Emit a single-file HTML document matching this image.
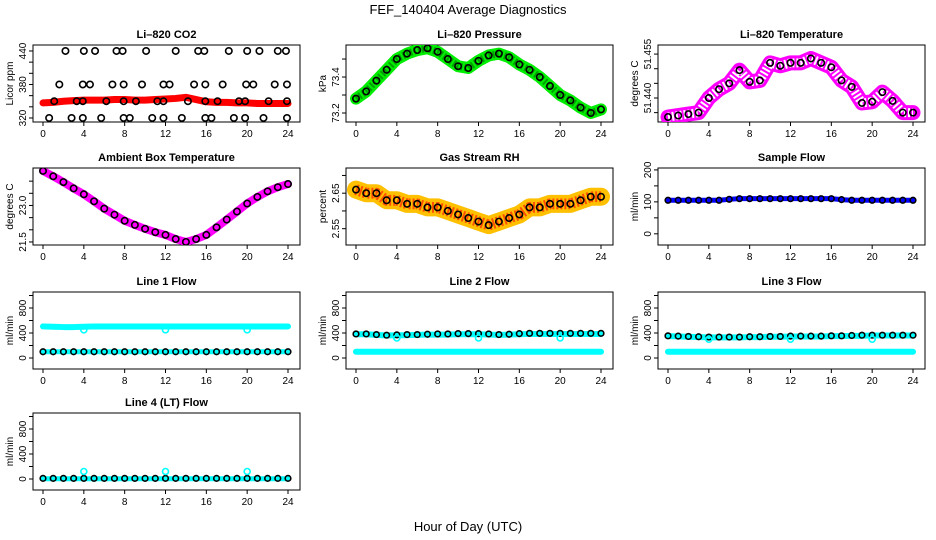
<!DOCTYPE html>
<html><head><meta charset="utf-8"><style>
html,body{margin:0;padding:0;background:#fff;}
svg{display:block;font-family:"Liberation Sans",sans-serif;}
</style></head><body>
<svg id="chart" width="936" height="540" viewBox="0 0 936 540">
<text x="468" y="14" text-anchor="middle" font-size="13">FEF_140404  Average Diagnostics</text>
<text x="468" y="531" text-anchor="middle" font-size="13">Hour of Day (UTC)</text>
</svg>
<script>
// ---- data ----
const hours = [0,1,2,3,4,5,6,7,8,9,10,11,12,13,14,15,16,17,18,19,20,21,22,23,24];
const xTicks = [0,4,8,12,16,20,24];
const co2Red = [347,348,350,351,352,352,352,353,353,352,352,353,354,355,357,353,349,348,348,347,347,346,346,346,346];
const co2BlackX = [2.2,4,5.1,7.2,7.8,10.1,13,15.2,15.8,18.2,20,21.2,23,23.8, 1.6,3.9,4.6,6.8,7.9,9.7,11.8,12.4,14.8,15.9,17.6,19.9,20.6,22.7,23.9, 1.1,3.3,3.9,6.2,7.9,9.1,11.2,11.8,14.2,15.9,17.1,19.2,19.8,22.1,23.9, 0.6,2.8,3.9,5.7,7.9,8.5,10.7,11.8,13.6,15.9,16.5,18.7,19.8,21.6,23.9];
const co2BlackY = [440,440,440,440,440,440,440,440,440,440,440,440,440,440, 380,380,380,380,380,380,380,380,380,380,380,380,380,380,380, 350,350,350,350,350,350,350,350,350,350,350,350,350,350,350, 320,320,320,320,320,320,320,320,320,320,320,320,320,320,320];
const pressure = [73.28,73.32,73.38,73.44,73.50,73.53,73.55,73.56,73.54,73.50,73.46,73.45,73.49,73.52,73.53,73.51,73.47,73.44,73.40,73.35,73.30,73.27,73.23,73.20,73.22];
const licorTemp = [51.4335,51.434,51.4345,51.435,51.440,51.443,51.445,51.4495,51.4455,51.446,51.452,51.451,51.452,51.452,51.4535,51.452,51.4505,51.446,51.4438,51.4383,51.4387,51.442,51.439,51.435,51.435];
const ambient = [24.42,24.2,23.96,23.7,23.46,23.17,22.87,22.62,22.37,22.2,22.04,21.9,21.79,21.62,21.5,21.62,21.79,22.1,22.42,22.75,23.08,23.35,23.58,23.75,23.88];
const rh = [2.66,2.65,2.65,2.63,2.63,2.62,2.62,2.61,2.61,2.60,2.59,2.58,2.57,2.56,2.57,2.58,2.59,2.61,2.61,2.62,2.62,2.62,2.63,2.64,2.64];
const sampleFlow = [105,105,105,105,105,105,108,110,110,110,110,110,110,110,110,110,110,107,105,105,105,105,105,105,105];
const line1Cyan = [505,500,495,495,500,505,505,505,505,505,505,505,505,505,505,505,505,505,505,505,505,505,505,505,505];
const line1Black = [100,100,100,100,100,100,100,100,100,100,100,100,100,100,100,100,100,100,100,100,100,100,100,100,100];
const line2CyanHigh = [380,380,370,360,365,365,370,375,375,375,380,380,380,375,370,375,380,385,385,385,385,385,385,385,385];
const line2CyanLow = [100,100,100,100,100,100,100,100,100,100,100,100,100,100,100,100,100,100,100,100,100,100,100,100,100];
const line2Black = [385,385,375,365,370,375,375,380,385,385,390,390,390,385,375,380,390,395,395,395,395,395,395,395,395];
const line3CyanHigh = [350,345,340,335,330,330,330,330,335,335,340,340,345,345,345,345,350,350,355,355,360,360,360,360,360];
const line3CyanLow = [100,100,100,100,100,100,100,100,100,100,100,100,100,100,100,100,100,100,100,100,100,100,100,100,100];
const line3Black = [355,350,345,340,335,335,335,335,340,340,345,345,350,350,350,350,355,355,360,365,365,365,365,365,365];
const line4Cyan = [5,5,5,5,5,5,5,5,5,5,5,5,5,5,5,5,5,5,5,5,5,5,5,5,5];
const line4Black = [10,10,10,10,10,10,10,10,10,10,10,10,10,10,10,10,10,10,10,10,10,10,10,10,10];
const outlierX = [4,12,20];
const line1Outliers = [450,450,450];
const line2Outliers = [320,320,320];
const line3Outliers = [300,300,300];
const line4Outliers = [120,120,120];

// ---- drawing ----
const NS = "http://www.w3.org/2000/svg";
const svg = document.getElementById('chart');
function mk(tag, attrs, parent){
  const e = document.createElementNS(NS, tag);
  for (const k in attrs) e.setAttribute(k, attrs[k]);
  (parent||svg).appendChild(e);
  return e;
}
const colX = [33, 346, 658];
const rowY = [45, 168, 292, 413];
const BW = 267, BH = 77;

function panel(o){
  const bx = colX[o.col], by = rowY[o.row];
  const g = mk('g', {});
  
  
  const xs = h => bx + 10 + h * (245 / 24);
  const ys = v => by + (o.top - v) / (o.top - o.bot) * BH;
  const box = mk('rect', {x:bx, y:by, width:BW, height:BH, fill:'none', stroke:'#000', 'stroke-width':1}, g);
  
  
  const t = mk('text', {x:bx+BW/2, y:by-7, 'text-anchor':'middle', 'font-size':11, 'font-weight':'bold'}, g);
  t.textContent = o.title;
  
  
  xTicks.forEach(h => {
    mk('line', {x1:xs(h), x2:xs(h), y1:by+BH, y2:by+BH+4, stroke:'#000'}, g);
    const l = mk('text', {x:xs(h), y:by+BH+15, 'text-anchor':'middle', 'font-size':10}, g);
    l.textContent = h;
    
    
  });
  o.yticks.forEach(v => {
    mk('line', {x1:bx-4, x2:bx, y1:ys(v), y2:ys(v), stroke:'#000'}, g);
  });
  o.ylabels.forEach(v => {
    const l = mk('text', {x:0, y:0, 'text-anchor':'middle', 'font-size':10, transform:`translate(${bx-7},${ys(v)}) rotate(-90)`}, g);
    l.textContent = o.fmt ? o.fmt(v) : v;
    
    
  });
  const yl = mk('text', {x:0, y:0, 'text-anchor':'middle', 'font-size':10, transform:`translate(${bx-20},${by+BH/2}) rotate(-90)`}, g);
  yl.textContent = o.ylab;
  
  
  const clip = 'clip' + o.col + o.row;
  const cp = mk('clipPath', {id:clip}, g);
  mk('rect', {x:bx, y:by, width:BW, height:BH}, cp);
  const sg = mk('g', {'clip-path':`url(#${clip})`}, g);
  (o.bands||[]).forEach(b => {
    const pts = b.vals.map((v,i) => xs(hours[i]) + ',' + ys(v)).join(' ');
    const pl = mk('polyline', {points:pts, fill:'none', stroke:b.color, 'stroke-width':b.w, 'stroke-linejoin':'round', 'stroke-linecap':'round'}, sg);
    
    
    if (b.inner) {
      const p2 = mk('polyline', {points:pts, fill:'none', stroke:b.inner, 'stroke-width':b.w*0.6, 'stroke-dasharray':'2 2', 'stroke-linejoin':'round'}, sg);
      
      
    }
  });
  (o.points||[]).forEach(p => {
    p.ys.forEach((v,i) => {
      const x = p.xs ? p.xs[i] : hours[i];
      const c = mk('circle', {cx:xs(x), cy:ys(v), r:p.r||3.2, fill:'none', stroke:p.color, 'stroke-width':1.6}, sg);
      
      
    });
  });
}

const flowTicks = [0,200,400,600,800,1000];
const flowLabels = [0,400,800];
panel({name:'co2-panel', col:0,row:0,title:'Li\u2013820 CO2',ylab:'Licor ppm',top:450.7,bot:312.8,
  yticks:[320,340,360,380,400,420,440], ylabels:[320,380,440],
  bands:[{name:'co2-band',vals:co2Red,color:'#ff0000',w:7}],
  points:[{name:'co2-point',xs:co2BlackX,ys:co2BlackY,color:'#000'}]});
panel({name:'pressure-panel', col:1,row:0,title:'Li\u2013820 Pressure',ylab:'kPa',top:73.578,bot:73.15,
  yticks:[73.2,73.3,73.4,73.5], ylabels:[73.2,73.4], fmt:v=>v.toFixed(1),
  bands:[{name:'pressure-band',vals:pressure,color:'#00ee00',w:12,inner:'#00a000'}],
  points:[{name:'pressure-point',ys:pressure,color:'#000'}]});
panel({name:'licor-temp-panel', col:2,row:0,title:'Li\u2013820 Temperature',ylab:'degrees C',top:51.4581,bot:51.4318,
  yticks:[51.435,51.440,51.445,51.450,51.455], ylabels:[51.440,51.455], fmt:v=>v.toFixed(3),
  bands:[{name:'temp-band',vals:licorTemp,color:'#ff00ff',w:15,inner:'#ffffff'}],
  points:[{name:'temp-point',ys:licorTemp,color:'#000'}]});
panel({name:'ambient-panel', col:0,row:1,title:'Ambient Box Temperature',ylab:'degrees C',top:24.54,bot:21.375,
  yticks:[21.5,22,22.5,23,23.5,24], ylabels:[21.5,23.0], fmt:v=>v.toFixed(1),
  bands:[{name:'ambient-band',vals:ambient,color:'#ff00ff',w:8}],
  points:[{name:'ambient-point',ys:ambient,color:'#000'}]});
panel({name:'rh-panel', col:1,row:1,title:'Gas Stream RH',ylab:'percent',top:2.721,bot:2.504,
  yticks:[2.55,2.60,2.65,2.70], ylabels:[2.55,2.65], fmt:v=>v.toFixed(2),
  bands:[{name:'rh-band',vals:rh,color:'#ffc000',w:18,inner:'#ff5000'}],
  points:[{name:'rh-point',ys:rh,color:'#000'}]});
panel({name:'sample-flow-panel', col:2,row:1,title:'Sample Flow',ylab:'ml/min',top:206,bot:-35,
  yticks:[0,50,100,150,200], ylabels:[0,100,200],
  bands:[{name:'sample-band',vals:sampleFlow,color:'#0000ff',w:5}],
  points:[{name:'sample-point',ys:sampleFlow,color:'#000',r:2.8}]});
panel({name:'line1-panel', col:0,row:2,title:'Line 1 Flow',ylab:'ml/min',top:1056,bot:-176,
  yticks:flowTicks, ylabels:flowLabels,
  bands:[{name:'line1-cyan',vals:line1Cyan,color:'#00ffff',w:6},{name:'line1-cyan-low',vals:line1Black,color:'#00ffff',w:5}],
  points:[{name:'line1-point',ys:line1Black,color:'#000',r:2.8},{name:'line1-outlier',xs:outlierX,ys:line1Outliers,color:'#00ffff',r:3}]});
panel({name:'line2-panel', col:1,row:2,title:'Line 2 Flow',ylab:'ml/min',top:1056,bot:-176,
  yticks:flowTicks, ylabels:flowLabels,
  bands:[{name:'line2-cyan',vals:line2CyanHigh,color:'#00ffff',w:6},{name:'line2-cyan-low',vals:line2CyanLow,color:'#00ffff',w:6}],
  points:[{name:'line2-point',ys:line2Black,color:'#000',r:2.8},{name:'line2-outlier',xs:outlierX,ys:line2Outliers,color:'#00ffff',r:3}]});
panel({name:'line3-panel', col:2,row:2,title:'Line 3 Flow',ylab:'ml/min',top:1056,bot:-176,
  yticks:flowTicks, ylabels:flowLabels,
  bands:[{name:'line3-cyan',vals:line3CyanHigh,color:'#00ffff',w:6},{name:'line3-cyan-low',vals:line3CyanLow,color:'#00ffff',w:6}],
  points:[{name:'line3-point',ys:line3Black,color:'#000',r:2.8},{name:'line3-outlier',xs:outlierX,ys:line3Outliers,color:'#00ffff',r:3}]});
panel({name:'line4-panel', col:0,row:3,title:'Line 4 (LT) Flow',ylab:'ml/min',top:1056,bot:-176,
  yticks:flowTicks, ylabels:flowLabels,
  bands:[{name:'line4-cyan',vals:line4Cyan,color:'#00ffff',w:5}],
  points:[{name:'line4-point',ys:line4Black,color:'#000',r:2.8},{name:'line4-outlier',xs:outlierX,ys:line4Outliers,color:'#00ffff',r:3}]});
</script>
</body></html>
